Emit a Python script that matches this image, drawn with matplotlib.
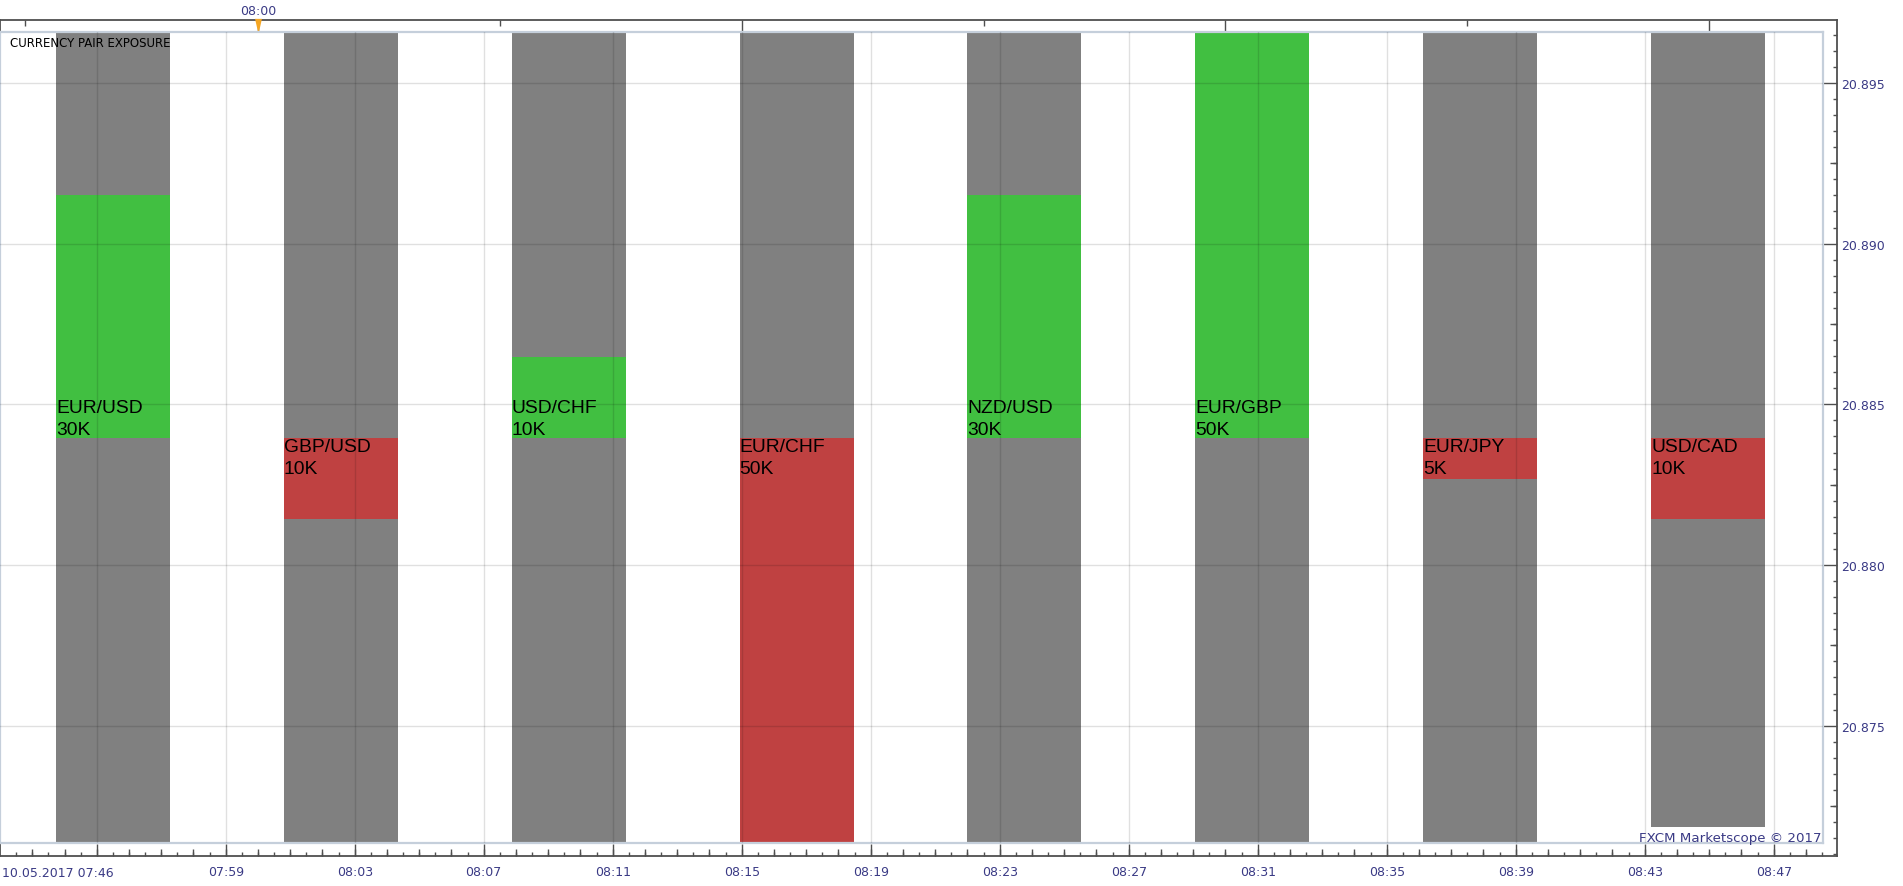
import matplotlib
matplotlib.use("Agg")
import matplotlib.pyplot as plt
import matplotlib.transforms as mtransforms
import numpy as np

# ---------------- data ----------------
pairs = ["EUR/USD", "GBP/USD", "USD/CHF", "EUR/CHF", "NZD/USD", "EUR/GBP", "EUR/JPY", "USD/CAD"]
exposure_k = [30, -10, 10, -50, 30, 50, -5, -10]
band_high_k = [50, 50, 50, 50, 50, 50, 50, 50]
band_low_k = [-50, -50, -50, -50, -50, -50, -50, -48]

x_major_minutes = [-5, -1, 3, 7, 11, 15, 19, 23, 27, 31, 35, 39, 43, 47]
x_tick_labels = ["10.05.2017 07:46", "07:59", "08:03", "08:07", "08:11", "08:15", "08:19",
                 "08:23", "08:27", "08:31", "08:35", "08:39", "08:43", "08:47"]
top_major_minutes = [0, 15, 30, 45]
top_minor_minutes = [-7.21, 7.5, 22.5, 37.5]
top_label = "08:00"

price_ticks = [20.875, 20.880, 20.885, 20.890, 20.895]
price_labels = ["20.875", "20.880", "20.885", "20.890", "20.895"]

title = "CURRENCY PAIR EXPOSURE"
watermark = "FXCM Marketscope \u00a9 2017"

BASE_PRICE = 20.88395
PRICE_PER_K = 0.000252

# ---------------- style / layout ----------------
GRAY = "#808080"
GREEN = "#41bf41"
RED = "#bf4141"
NAVY = "#3a3a85"
FRAME = "#4f4f4f"
INNER = "#c5cfdb"

W, H = 1903, 887
PX_PER_MIN = 32.25
X0_PX = 258.0          # pixel of 08:00
PRICE_REF, REF_PX, PX_PER_PRICE = 20.885, 405.3, 32140.0

BAR_START = (56 - X0_PX) / PX_PER_MIN
BAR_STEP = 227.86 / PX_PER_MIN
BAR_WIDTH = 114 / PX_PER_MIN


def rect(x0, y0, x1, y1):
    return [x0 / W, 1 - y1 / H, (x1 - x0) / W, (y1 - y0) / H]


def xlim_px(x0, x1):
    return ((x0 - X0_PX) / PX_PER_MIN, (x1 - X0_PX) / PX_PER_MIN)


def ylim_px(top, bot):
    return (PRICE_REF - (bot - REF_PX) / PX_PER_PRICE, PRICE_REF + (REF_PX - top) / PX_PER_PRICE)


fig = plt.figure(figsize=(W / 100, H / 100), dpi=100)
fig.patch.set_facecolor("white")

OUT = (0, 21, 1837.3, 856.7)
IN = (0, 33.3, 1822.7, 843.8)

# outer frame axes (bottom/right ticks + labels)
ax_o = fig.add_axes(rect(*OUT))
ax_o.set_xlim(*xlim_px(OUT[0], OUT[2]))
ax_o.set_ylim(*ylim_px(OUT[1], OUT[3]))
for s in ax_o.spines.values():
    s.set_color(FRAME)
    s.set_linewidth(1.3)
ax_o.set_xticks(x_major_minutes)
ax_o.set_xticklabels([""] + x_tick_labels[1:])
ax_o.set_xticks(np.arange(-7.5, 49, 0.5), minor=True)
ax_o.yaxis.tick_right()
ax_o.set_yticks(price_ticks)
ax_o.set_yticklabels(price_labels)
ax_o.set_yticks(np.arange(20.8710, 20.8970, 0.0005), minor=True)
ax_o.tick_params(axis="x", which="major", direction="in", length=8.6, width=1, color=FRAME,
                 labelsize=9, labelcolor=NAVY, pad=7)
ax_o.tick_params(axis="x", which="minor", direction="in", length=2.6, width=1, color=FRAME)
ax_o.tick_params(axis="y", which="major", direction="in", length=10.3, width=1, color=FRAME,
                 labelsize=9, labelcolor=NAVY, pad=2.5, left=False, right=True)
ax_o.tick_params(axis="y", which="minor", direction="in", length=2.9, width=1, color=FRAME,
                 left=False, right=True)
ax_o.annotate(x_tick_labels[0], xy=(0, 0), xycoords="axes fraction", xytext=(1.5, -17.3),
              textcoords="offset pixels", ha="left", va="center", fontsize=9, color=NAVY)

# medium ticks (whole minutes / quarter price steps)
ax_m = fig.add_axes(rect(*OUT), frameon=False)
ax_m.set_xlim(ax_o.get_xlim())
ax_m.set_ylim(ax_o.get_ylim())
ax_m.patch.set_alpha(0)
ax_m.set_xticks(np.arange(-7, 49, 1.0))
ax_m.yaxis.tick_right()
ax_m.set_yticks(np.arange(20.8725, 20.8970, 0.005))
ax_m.tick_params(axis="x", direction="in", length=5.0, width=1, color=FRAME, labelbottom=False)
ax_m.tick_params(axis="y", direction="in", length=5.0, width=1, color=FRAME, labelright=False,
                 left=False, right=True)

# top ticks
ax_t = fig.add_axes(rect(*OUT), frameon=False)
ax_t.set_xlim(ax_o.get_xlim())
ax_t.set_ylim(0, 1)
ax_t.patch.set_alpha(0)
ax_t.xaxis.tick_top()
ax_t.set_xticks(top_major_minutes)
ax_t.set_xticklabels([top_label] + [""] * (len(top_major_minutes) - 1))
ax_t.set_xticks(top_minor_minutes, minor=True)
ax_t.set_yticks([])
ax_t.tick_params(axis="x", which="major", direction="in", length=8, width=1, color=FRAME,
                 labelsize=9, labelcolor=NAVY, pad=2)
ax_t.tick_params(axis="x", which="minor", direction="in", length=4, width=1, color=FRAME)
marker_tr = ax_t.get_xaxis_transform() + mtransforms.ScaledTranslation(0, -5.5 / 100, fig.dpi_scale_trans)
ax_t.plot([0], [1], marker=[(-0.45, 1), (0.45, 1), (0, -1)], markersize=11, color="#f5a623",
          markeredgewidth=0, clip_on=False, transform=marker_tr, zorder=5)

# inner plot area
ax = fig.add_axes(rect(*IN))
ax.set_xlim(*xlim_px(IN[0], IN[2]))
ax.set_ylim(*ylim_px(IN[1], IN[3]))
for s in ax.spines.values():
    s.set_color(INNER)
    s.set_linewidth(1.6)
ax.set_xticks(x_major_minutes)
ax.set_yticks(price_ticks)
ax.tick_params(length=0, labelbottom=False, labelleft=False)
ax.set_axisbelow(False)
ax.grid(True, color="black", alpha=0.12, linewidth=1.0)

lefts = BAR_START + BAR_STEP * np.arange(len(pairs))
hi = np.array(band_high_k, dtype=float)
lo = np.array(band_low_k, dtype=float)
ek = np.array(exposure_k, dtype=float)

ax.bar(lefts, (hi - lo) * PRICE_PER_K, bottom=BASE_PRICE + lo * PRICE_PER_K, width=BAR_WIDTH,
       align="edge", color=GRAY, linewidth=0, zorder=1)
ax.bar(lefts, ek * PRICE_PER_K, bottom=BASE_PRICE, width=BAR_WIDTH, align="edge",
       color=[GREEN if v > 0 else RED for v in ek], linewidth=0, zorder=2)

for x, pair, v in zip(lefts, pairs, exposure_k):
    ax.text(x, BASE_PRICE, f"{pair}\n{abs(v)}K", ha="left", va="bottom" if v > 0 else "top",
            fontsize=13.9, family="Liberation Sans", color="black", linespacing=1.38, zorder=4)

fig.text(10 / W, 1 - 37 / H, title, ha="left", va="top", fontsize=8.5, color="black")
fig.text(1821.5 / W, 1 - 845 / H, watermark, ha="right", va="bottom", fontsize=9.6, color=NAVY)

fig.savefig("out.png", dpi=100, facecolor="white")
